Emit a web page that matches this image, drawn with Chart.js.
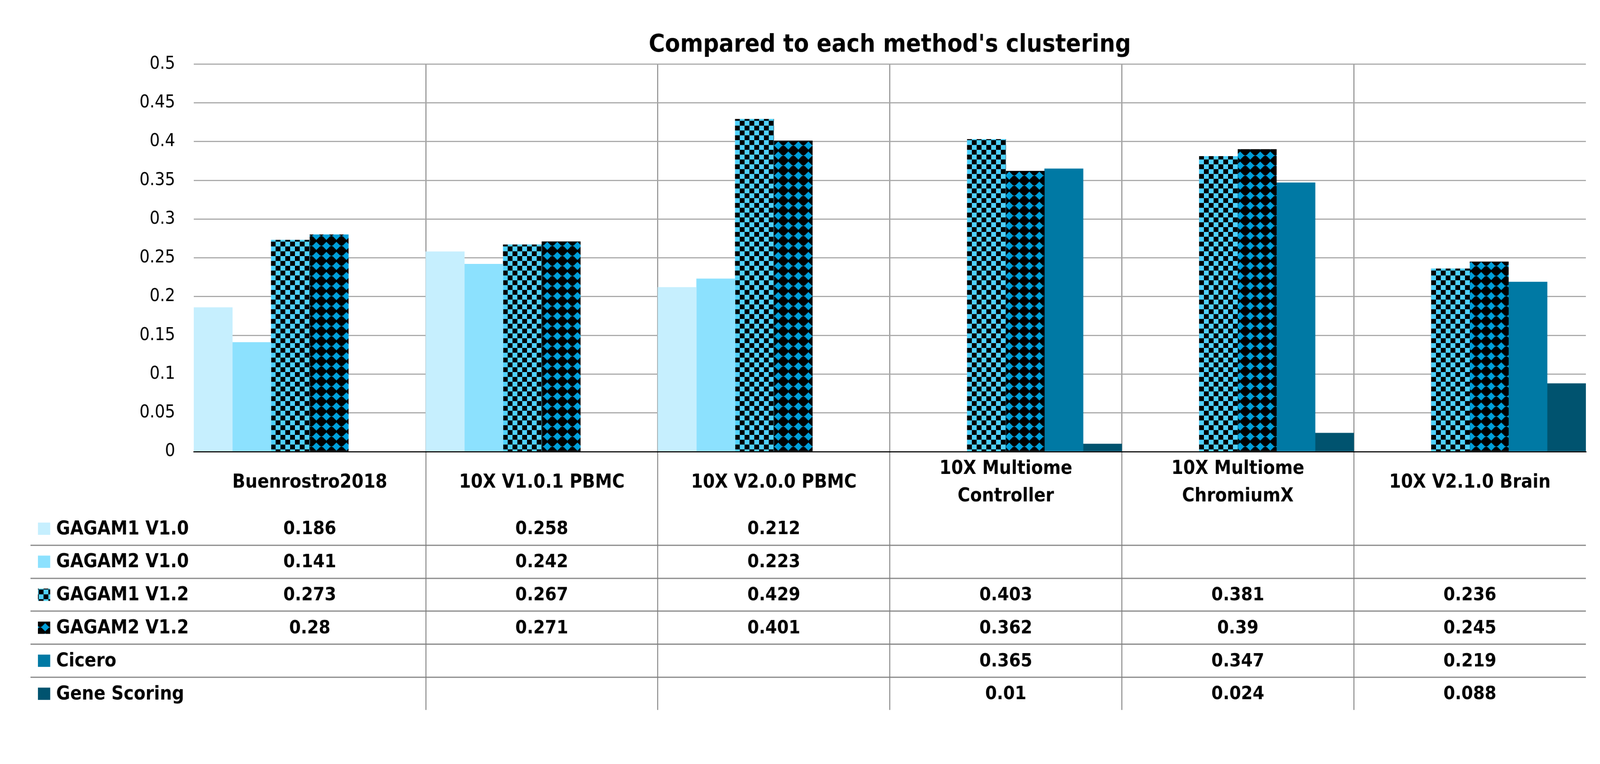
<!DOCTYPE html>
<html>
<head>
<meta charset="utf-8">
<script src="https://cdn.jsdelivr.net/npm/chart.js@4"></script>
<style>
  html, body { margin: 0; padding: 0; background: #fff; overflow: hidden; }
  #wrap { width: 4302px; height: 1957px; transform-origin: 0 0; }
  #chart { display: block; }
</style>
</head>
<body>
<div id="wrap"><canvas id="chart" width="4302" height="1957"></canvas></div>
<script>
// Data
const categories = ['Buenrostro2018', '10X V1.0.1 PBMC', '10X V2.0.0 PBMC',
  ['10X Multiome', 'Controller'], ['10X Multiome', 'ChromiumX'], '10X V2.1.0 Brain'];
const seriesNames = ['GAGAM1 V1.0', 'GAGAM2 V1.0', 'GAGAM1 V1.2', 'GAGAM2 V1.2', 'Cicero', 'Gene Scoring'];
const gagam1V10 = [0.186, 0.258, 0.212, null, null, null];
const gagam2V10 = [0.141, 0.242, 0.223, null, null, null];
const gagam1V12 = [0.273, 0.267, 0.429, 0.403, 0.381, 0.236];
const gagam2V12 = [0.28, 0.271, 0.401, 0.362, 0.39, 0.245];
const cicero = [null, null, null, 0.365, 0.347, 0.219];
const geneScoring = [null, null, null, 0.01, 0.024, 0.088];

const FONT = '"DejaVu Sans Condensed", "Liberation Sans Narrow", "Liberation Sans", sans-serif';

// fit the 4302x1957 drawing into the window whatever the pixel ratio
const wrap = document.getElementById('wrap');
const fit = Math.min(window.innerWidth / 4302, window.innerHeight / 1957);
wrap.style.transform = 'scale(' + fit + ')';

// Checkerboard fill (GAGAM1 V1.2)
function checkerPattern() {
  const c = document.createElement('canvas');
  c.width = 26; c.height = 26;
  const g = c.getContext('2d');
  g.fillStyle = '#4FD1FF';
  g.fillRect(0, 0, 26, 26);
  g.fillStyle = '#000';
  g.fillRect(0, 0, 13, 13);
  g.fillRect(13, 13, 13, 13);
  return g.createPattern(c, 'repeat');
}

// Blue diamonds on black (GAGAM2 V1.2)
function diamondPattern() {
  const c = document.createElement('canvas');
  c.width = 27; c.height = 27;
  const g = c.getContext('2d');
  g.fillStyle = '#000';
  g.fillRect(0, 0, 27, 27);
  g.fillStyle = '#009FDA';
  g.beginPath();
  g.moveTo(13.5, 2.5);
  g.lineTo(24.5, 13.5);
  g.lineTo(13.5, 24.5);
  g.lineTo(2.5, 13.5);
  g.closePath();
  g.fill();
  g.fillRect(1, 12.5, 25, 2);
  return g.createPattern(c, 'repeat');
}

const fills = ['#C6EFFE', '#8CE1FE', checkerPattern(), diamondPattern(), '#0079A4', '#00536F'];
const values = [gagam1V10, gagam2V10, gagam1V12, gagam2V12, cicero, geneScoring];

// Excel-style data table under the x axis
const ROW_H = 88.8;
const dataTable = {
  id: 'dataTable',
  afterDraw(chart) {
    const { ctx, chartArea } = chart;
    const x = chart.scales.x;
    const top = chartArea.bottom + 163;
    ctx.save();

    ctx.strokeStyle = '#7F7F7F';
    ctx.lineWidth = 3;
    for (let r = 1; r < seriesNames.length; r++) {
      const y = Math.round(top + r * ROW_H);
      ctx.beginPath();
      ctx.moveTo(82, y);
      ctx.lineTo(chartArea.right, y);
      ctx.stroke();
    }

    // category header row
    ctx.fillStyle = '#000';
    ctx.textAlign = 'center';
    ctx.textBaseline = 'middle';
    ctx.font = 'bold 51px ' + FONT;
    categories.forEach((c, i) => {
      const lines = [].concat(c);
      const cx = x.getPixelForValue(i);
      const cy = chartArea.bottom + 84;
      lines.forEach((l, k) => ctx.fillText(l, cx, cy + (k - (lines.length - 1) / 2) * 74));
    });

    // series rows
    seriesNames.forEach((name, r) => {
      const cy = top + (r + 0.5) * ROW_H;
      ctx.fillStyle = fills[r];
      ctx.fillRect(102, cy - 16.5, 33, 33);
      ctx.fillStyle = '#000';
      ctx.textAlign = 'left';
      ctx.font = 'bold 51px ' + FONT;
      ctx.fillText(name, 151, cy + 2);
      ctx.textAlign = 'center';
      ctx.font = 'bold 50px ' + FONT;
      values[r].forEach((v, i) => {
        if (v !== null) ctx.fillText(String(v), x.getPixelForValue(i), cy + 2);
      });
    });
    ctx.restore();
  }
};

new Chart(document.getElementById('chart'), {
  type: 'bar',
  data: {
    labels: categories,
    datasets: seriesNames.map((name, i) => ({
      label: name,
      data: values[i],
      backgroundColor: fills[i],
      borderWidth: 0,
      categoryPercentage: 1,
      barPercentage: 1
    }))
  },
  options: {
    responsive: false,
    devicePixelRatio: 1,
    animation: false,
    layout: { padding: { left: 0, right: 38, top: 0, bottom: 46 } },
    plugins: {
      legend: { display: false },
      tooltip: { enabled: false },
      title: {
        display: true,
        text: "Compared to each method's clustering",
        fullSize: false,
        color: '#000',
        font: { family: FONT, size: 66, weight: 'bold' },
        padding: { top: 82, bottom: 11 }
      }
    },
    scales: {
      x: {
        ticks: { display: false },
        grid: {
          offset: true,
          lineWidth: 2.5,
          drawTicks: true,
          tickLength: 695,
          color: (c) => (c.type === 'tick' && c.index > 0) ? '#808080' : 'rgba(0,0,0,0)'
        },
        border: { display: true, color: '#000', width: 3 },
        afterFit: (s) => { s.height = 696; }
      },
      y: {
        min: 0,
        max: 0.5,
        ticks: {
          stepSize: 0.05,
          color: '#000',
          padding: 50,
          font: { family: FONT, size: 48 },
          callback: (v) => String(+v.toFixed(2))
        },
        grid: { color: '#A6A6A6', lineWidth: 3, drawTicks: false },
        border: { display: false },
        afterFit: (s) => { s.width = 521; }
      }
    }
  },
  plugins: [dataTable]
});
</script>
</body>
</html>
